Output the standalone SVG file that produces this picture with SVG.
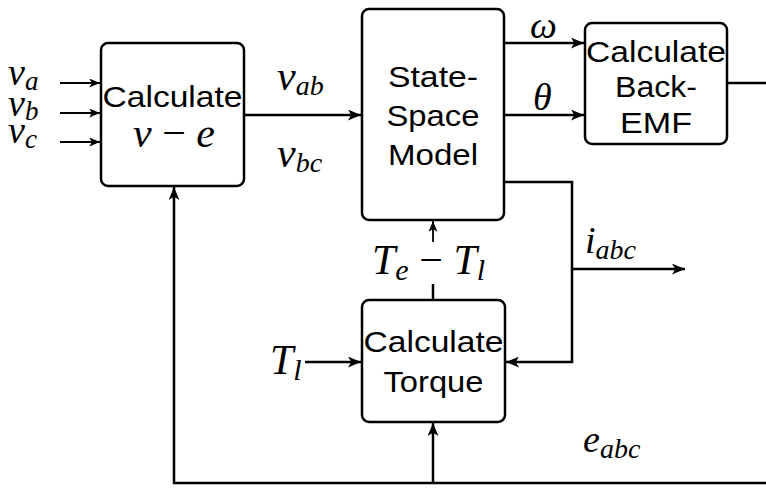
<svg xmlns="http://www.w3.org/2000/svg" width="766" height="489" viewBox="0 0 766 489">
<style>
.box{fill:#fff;stroke:#000;stroke-width:2.5}
.lbl{font-family:"Liberation Sans",Arial,sans-serif;font-size:30px;fill:#000;text-anchor:middle}
.m{font-family:"Liberation Serif","Times New Roman",serif;font-style:italic;fill:#000}
.c{fill:none;stroke:#000;stroke-width:2.5}
.t{fill:none;stroke:#000;stroke-width:1.8}
</style>
<defs>
<marker id="arr" viewBox="0 0 12 10" refX="12" refY="5" markerWidth="13" markerHeight="11" orient="auto" markerUnits="userSpaceOnUse"><path d="M0,0 L12,5 L0,10 L3,5 z" fill="#000"/></marker>
<marker id="arrs" viewBox="0 0 12 10" refX="12" refY="5" markerWidth="11" markerHeight="9" orient="auto" markerUnits="userSpaceOnUse"><path d="M0,0 L12,5 L0,10 L3,5 z" fill="#000"/></marker>
</defs>
<rect width="766" height="489" fill="#fff"/>
<g id="connectors">
<path class="t" d="M60,83 H100" marker-end="url(#arrs)"/>
<path class="t" d="M60,113 H100" marker-end="url(#arrs)"/>
<path class="t" d="M60,142 H100" marker-end="url(#arrs)"/>
<path class="c" d="M244,115 H361" marker-end="url(#arr)"/>
<path class="c" d="M504,43 H584" marker-end="url(#arr)"/>
<path class="c" d="M504,115 H584" marker-end="url(#arr)"/>
<path class="c" d="M727,83 H766"/>
<path class="c" d="M504,182 H572 V362 H506" marker-end="url(#arr)"/>
<path class="c" d="M572,269 H685" marker-end="url(#arr)"/>
<path class="c" d="M433,300 V284"/>
<path class="t" d="M433,242 V221" marker-end="url(#arrs)"/>
<path class="c" d="M305,362 H361" marker-end="url(#arr)"/>
<path class="c" d="M766,483 H174 V187" marker-end="url(#arr)"/>
<path class="c" d="M433,483 V423" marker-end="url(#arr)"/>
</g>
<g id="calc-ve">
<rect class="box" x="101" y="43" width="143" height="143" rx="7"/>
<text class="lbl" x="172.5" y="107" font-size="32" textLength="140" lengthAdjust="spacingAndGlyphs">Calculate</text>
<text class="m" x="174" y="147" font-size="42" text-anchor="middle">v <tspan font-style="normal">−</tspan> e</text>
</g>
<g id="state-space">
<rect class="box" x="362" y="9" width="142" height="211" rx="7"/>
<text class="lbl" x="433" y="87" textLength="90" lengthAdjust="spacingAndGlyphs">State-</text>
<text class="lbl" x="433" y="126" textLength="93" lengthAdjust="spacingAndGlyphs">Space</text>
<text class="lbl" x="433" y="165" textLength="90" lengthAdjust="spacingAndGlyphs">Model</text>
</g>
<g id="back-emf">
<rect class="box" x="585" y="23" width="142" height="121" rx="7"/>
<text class="lbl" x="656" y="62" font-size="32" textLength="140" lengthAdjust="spacingAndGlyphs">Calculate</text>
<text class="lbl" x="656" y="97" textLength="82" lengthAdjust="spacingAndGlyphs">Back-</text>
<text class="lbl" x="656" y="133" textLength="72" lengthAdjust="spacingAndGlyphs">EMF</text>
</g>
<g id="calc-torque">
<rect class="box" x="362" y="300" width="143" height="122" rx="7"/>
<text class="lbl" x="433.5" y="352" font-size="32" textLength="140" lengthAdjust="spacingAndGlyphs">Calculate</text>
<text class="lbl" x="433.5" y="392" textLength="100" lengthAdjust="spacingAndGlyphs">Torque</text>
</g>
<g id="labels">
<text class="m" x="8" y="85" font-size="38">v<tspan font-size="27" dy="5">a</tspan></text>
<text class="m" x="8" y="116" font-size="38">v<tspan font-size="27" dy="4">b</tspan></text>
<text class="m" x="8" y="143" font-size="38">v<tspan font-size="27" dy="5">c</tspan></text>
<text class="m" x="277" y="90" font-size="42">v<tspan font-size="28" dy="5">ab</tspan></text>
<text class="m" x="277" y="167" font-size="42">v<tspan font-size="28" dy="5">bc</tspan></text>
<text class="m" x="530" y="38" font-size="38">ω</text>
<text class="m" x="533" y="110" font-size="38">θ</text>
<text class="m" x="585" y="253" font-size="38">i<tspan font-size="28" dy="6">abc</tspan></text>
<text class="m" x="583" y="452" font-size="38">e<tspan font-size="28" dy="6">abc</tspan></text>
<text class="m" x="372" y="274" font-size="42">T<tspan font-size="30" dy="6">e</tspan><tspan font-style="normal" dy="-6"> − </tspan>T<tspan font-size="30" dy="6">l</tspan></text>
<text class="m" x="270" y="374" font-size="42">T<tspan font-size="30" dy="6">l</tspan></text>
</g>
</svg>
